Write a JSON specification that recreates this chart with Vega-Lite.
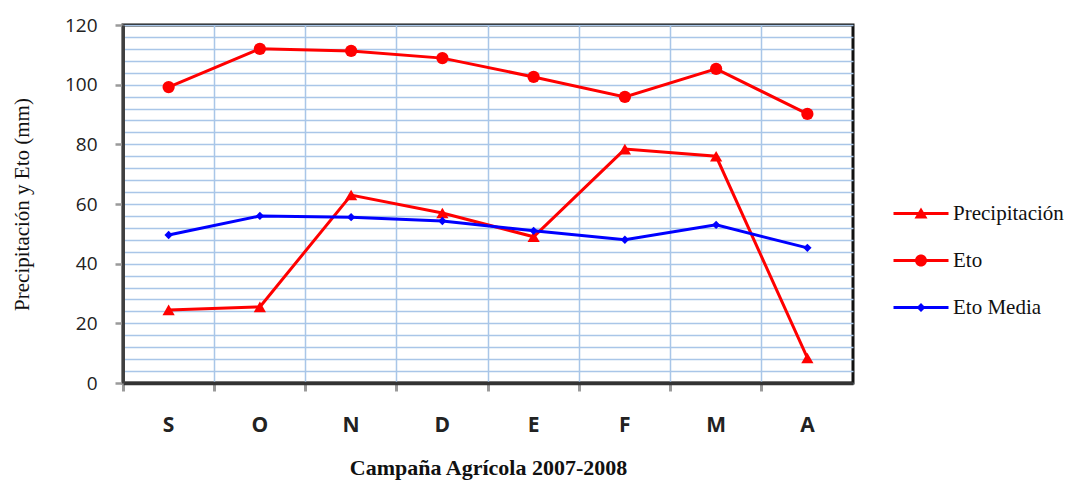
{
  "$schema": "https://vega.github.io/schema/vega-lite/v6.json",
  "width": 730,
  "height": 358,
  "autosize": {"type": "none"},
  "padding": {"left": 123, "top": 25, "right": 232, "bottom": 106},
  "background": "white",
  "config": {
    "view": {"stroke": "#111111", "strokeWidth": 3}
  },
  "data": {
    "values": [
      {"mes": "S", "serie": "Precipitación", "valor": 24.5},
      {"mes": "O", "serie": "Precipitación", "valor": 25.5},
      {"mes": "N", "serie": "Precipitación", "valor": 63},
      {"mes": "D", "serie": "Precipitación", "valor": 57},
      {"mes": "E", "serie": "Precipitación", "valor": 49},
      {"mes": "F", "serie": "Precipitación", "valor": 78.4},
      {"mes": "M", "serie": "Precipitación", "valor": 76},
      {"mes": "A", "serie": "Precipitación", "valor": 8.4},
      {"mes": "S", "serie": "Eto", "valor": 99.2},
      {"mes": "O", "serie": "Eto", "valor": 112},
      {"mes": "N", "serie": "Eto", "valor": 111.3},
      {"mes": "D", "serie": "Eto", "valor": 108.9},
      {"mes": "E", "serie": "Eto", "valor": 102.6},
      {"mes": "F", "serie": "Eto", "valor": 95.9},
      {"mes": "M", "serie": "Eto", "valor": 105.3},
      {"mes": "A", "serie": "Eto", "valor": 90.2},
      {"mes": "S", "serie": "Eto Media", "valor": 49.6},
      {"mes": "O", "serie": "Eto Media", "valor": 56},
      {"mes": "N", "serie": "Eto Media", "valor": 55.6},
      {"mes": "D", "serie": "Eto Media", "valor": 54.3},
      {"mes": "E", "serie": "Eto Media", "valor": 51},
      {"mes": "F", "serie": "Eto Media", "valor": 48},
      {"mes": "M", "serie": "Eto Media", "valor": 53},
      {"mes": "A", "serie": "Eto Media", "valor": 45.3}
    ]
  },
  "encoding": {
    "x": {
      "field": "mes",
      "type": "nominal",
      "sort": ["S", "O", "N", "D", "E", "F", "M", "A"],
      "scale": {"type": "band", "paddingInner": 0, "paddingOuter": 0},
      "axis": {
        "title": "Campaña Agrícola 2007-2008",
        "titleFont": "Liberation Serif",
        "titleFontSize": 22,
        "titleFontWeight": "bold",
        "titleColor": "#111111",
        "titlePadding": 22,
        "labelAngle": 0,
        "labelFont": "Open Sans",
        "labelFontSize": 21,
        "labelFontWeight": "bold",
        "labelColor": "#222222",
        "labelPadding": 23,
        "bandPosition": 0,
        "grid": true,
        "gridColor": "#a9c6e8",
        "gridWidth": 1.5,
        "tickColor": "#9a9a9a",
        "tickWidth": 3,
        "tickSize": 8,
        "domainColor": "#333333",
        "domainWidth": 3.5
      }
    },
    "y": {
      "field": "valor",
      "type": "quantitative",
      "scale": {"domain": [0, 120], "nice": false, "zero": true},
      "axis": {
        "title": "Precipitación y Eto (mm)",
        "titleFont": "Liberation Serif",
        "titleFontSize": 21,
        "titleFontWeight": "normal",
        "titleColor": "#111111",
        "titleX": -101,
        "titleY": 179,
        "titleAngle": -90,
        "titleBaseline": "middle",
        "titleAlign": "center",
        "values": [0, 4, 8, 12, 16, 20, 24, 28, 32, 36, 40, 44, 48, 52, 56, 60, 64, 68, 72, 76, 80, 84, 88, 92, 96, 100, 104, 108, 112, 116, 120],
        "labelExpr": "datum.value % 20 === 0 ? datum.label : ''",
        "labelFont": "Open Sans",
        "labelFontSize": 19,
        "labelColor": "#222222",
        "labelPadding": 18,
        "grid": true,
        "gridColor": "#a9c6e8",
        "gridWidth": 1.5,
        "tickColor": {"condition": {"test": "datum.value % 20 === 0", "value": "#9a9a9a"}, "value": "transparent"},
        "tickWidth": 2.5,
        "tickSize": 8,
        "domainColor": "#404040",
        "domainWidth": 3
      }
    }
  },
  "layer": [
    {
      "mark": {"type": "line", "strokeWidth": 3},
      "encoding": {
        "color": {
          "field": "serie",
          "type": "nominal",
          "scale": {"domain": ["Precipitación", "Eto", "Eto Media"], "range": ["#ff0000", "#ff0000", "#0000ff"]},
          "legend": {
            "title": null,
            "orient": "none",
            "legendX": 787.5,
            "legendY": 178,
            "padding": 0,
            "symbolSize": 400,
            "rowPadding": 25,
            "labelOffset": 21.5,
            "labelFont": "Liberation Serif",
            "labelFontSize": 21,
            "labelColor": "#111111",
            "labelLimit": 300,
            "encode": {
              "symbols": {
                "update": {
                  "shape": {"signal": "datum.value === 'Eto' ? 'M-2.75,-0.15H2.75V0.15H-2.75ZM0.6,0A0.6,0.6 0 1,1 -0.6,0A0.6,0.6 0 1,1 0.6,0Z' : datum.value === 'Eto Media' ? 'M-2.75,-0.15H2.75V0.15H-2.75ZM0,-0.45L0.45,0L0,0.45L-0.45,0Z' : 'M-2.75,-0.15H2.75V0.15H-2.75ZM0,-0.6L0.65,0.5L-0.65,0.5Z'"},
                  "fill": {"signal": "datum.value === 'Eto Media' ? '#0000ff' : '#ff0000'"},
                  "stroke": {"value": "transparent"},
                  "strokeWidth": {"value": 0},
                  "size": {"value": 400},
                  "opacity": {"value": 1},
                  "fillOpacity": {"value": 1}
                }
              }
            }
          }
        }
      }
    },
    {
      "transform": [{"filter": "datum.serie === 'Precipitación'"}],
      "mark": {"type": "point", "shape": "triangle-up", "filled": true, "opacity": 1, "size": 150, "color": "#ff0000"}
    },
    {
      "transform": [{"filter": "datum.serie === 'Eto'"}],
      "mark": {"type": "point", "shape": "circle", "filled": true, "opacity": 1, "size": 150, "color": "#ff0000"}
    },
    {
      "transform": [{"filter": "datum.serie === 'Eto Media'"}],
      "mark": {"type": "point", "shape": "diamond", "filled": true, "opacity": 1, "size": 70, "color": "#0000ff"}
    }
  ]
}
